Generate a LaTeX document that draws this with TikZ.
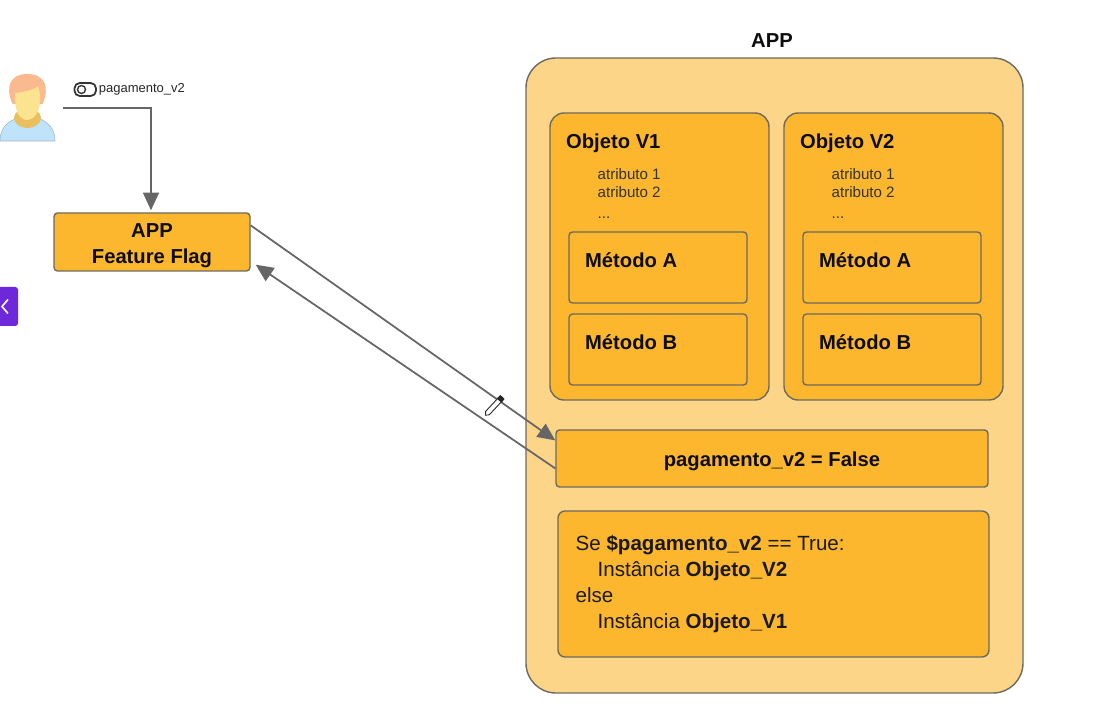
\documentclass[tikz,border=0pt]{standalone}
\usepackage{fontspec}
\setmainfont{Liberation Sans}
\usetikzlibrary{arrows.meta,positioning,calc}
\definecolor{appsand}{HTML}{FCD589}
\definecolor{appamber}{HTML}{FCB72F}
\definecolor{appline}{HTML}{6E6A5E}
\definecolor{arrowgray}{HTML}{666666}
\definecolor{tabpurple}{HTML}{6D28D9}
\definecolor{skinyellow}{HTML}{FCE38F}
\definecolor{hairpeach}{HTML}{FBB98F}
\definecolor{neckgold}{HTML}{E8C060}
\definecolor{shirtblue}{HTML}{BFE3FB}
\tikzset{
    ambox/.style={draw=appline, fill=appamber, line width=0.8pt, rounded corners=2pt},
    objbox/.style={ambox, rounded corners=8pt, minimum width=4.38cm, minimum height=5.74cm},
    metbox/.style={ambox, minimum width=3.56cm, minimum height=1.42cm},
    boldlabel/.style={font=\fontsize{11.5}{14}\selectfont\bfseries, text=black!95},
    attrlabel/.style={font=\fontsize{8.6}{10.2}\selectfont, text=black!80, align=left},
    flagarrow/.style={draw=arrowgray, line width=1pt, -{Triangle[length=10pt,width=9pt]}}
}
\begin{document}
\begin{tikzpicture}
    \useasboundingbox (0,0) rectangle (22.36,14.34);

    % person
    \fill[shirtblue, draw=shirtblue!70!black!80, line width=0.3pt] (0,11.52) .. controls (0,11.85) and (0.25,12.0) .. (0.55,12.0)
        .. controls (0.85,12.0) and (1.1,11.85) .. (1.1,11.52) -- cycle;
    \fill[neckgold] (0.55,11.98) ellipse (0.27cm and 0.2cm);
    \fill[hairpeach] (0.25,12.26) .. controls (0.1,12.6) and (0.2,12.86) .. (0.54,12.86)
        .. controls (0.9,12.86) and (1.0,12.6) .. (0.85,12.26) -- cycle;
    \fill[skinyellow] (0.54,11.94) .. controls (0.36,11.96) and (0.29,12.14) .. (0.3,12.48)
        .. controls (0.48,12.5) and (0.68,12.54) .. (0.76,12.62)
        .. controls (0.8,12.5) and (0.81,12.4) .. (0.8,12.3)
        .. controls (0.79,12.14) and (0.72,11.96) .. (0.54,11.94) -- cycle;
    \coordinate (usr) at (1.26,12.18);

    % flag name
    \draw[black!80, line width=1pt, rounded corners=3pt] (1.49,12.42) rectangle (1.92,12.68);
    \draw[black!80, line width=0.8pt] (1.63,12.55) circle (0.08cm);
    \node[anchor=west, inner sep=0pt, font=\fontsize{7.4}{9}\selectfont, text=black!85] (flagname) at (1.97,12.55) {pagamento\_v2};

    % feature flag box
    \node[ambox, minimum width=3.92cm, minimum height=1.16cm] (flag) at (3.04,9.50) {};
    \node[align=center, font=\fontsize{11.5}{14.6}\selectfont\bfseries, text=black!95, yshift=-0.08cm] (flagtxt) at (flag.center) {APP\\Feature Flag};

    % tab on the edge
    \fill[tabpurple, rounded corners=1.5pt] (-0.2,7.82) rectangle (0.36,8.6);
    \draw[white, line width=0.9pt] (0.16,8.35) -- (0.04,8.21) -- (0.16,8.07);

    % big app box
    \node[draw=appline, fill=appsand, line width=0.8pt, rounded corners=17pt, minimum width=9.94cm, minimum height=12.70cm] (app) at (15.49,6.83) {};
    \node[boldlabel] (apptitle) at (15.44,13.52) {APP};

    % objects
    \node[objbox] (objv1) at (13.19,9.21) {};
    \node[objbox] (objv2) at (17.87,9.21) {};
    \foreach \nm/\cx/\ttl in {v1/13.16/Objeto V1,v2/17.84/Objeto V2} {
        \node[boldlabel, anchor=west, inner sep=0pt] (ttl\nm) at ($(obj\nm.north west)+(0.33,-0.62)$) {\ttl};
        \node[attrlabel, anchor=north west, inner sep=0pt] (att\nm) at ($(obj\nm.north west)+(0.96,-1.12)$) {atributo 1\\atributo 2\\[2pt]...};
        \node[metbox] (meta\nm) at (\cx,8.99) {};
        \node[metbox] (metb\nm) at (\cx,7.35) {};
        \node[boldlabel, anchor=west, inner sep=0pt] (ltxa\nm) at ($(meta\nm.north west)+(0.33,-0.58)$) {Método A};
        \node[boldlabel, anchor=west, inner sep=0pt] (ltxb\nm) at ($(metb\nm.north west)+(0.33,-0.58)$) {Método B};
    }

    % flag value
    \node[ambox, minimum width=8.64cm, minimum height=1.14cm] (flagval) at (15.44,5.17) {};
    \node[boldlabel, yshift=-0.05cm] (flagvaltxt) at (flagval.center) {pagamento\_v2 = False};

    % switch code
    \node[ambox, rounded corners=4pt, minimum width=8.62cm, minimum height=2.92cm] (code) at (15.47,2.66) {};
    \node[anchor=north west, inner sep=0pt, align=left, font=\fontsize{11.7}{14.75}\selectfont, text=black!90] (codetxt) at ($(code.north west)+(0.36,-0.5)$)
        {Se \textbf{\$pagamento\_v2} == True:\\
         \hspace*{0.44cm}Instância \textbf{Objeto\_V2}\\
         else\\
         \hspace*{0.44cm}Instância \textbf{Objeto\_V1}};

    % connectors
    \draw[flagarrow] (usr) -| ($(flag.north)+(-0.02,0.04)$);
    \draw[flagarrow] ($(flag.north east)!0.22!(flag.south east)$) -- ($(flagval.north west)!0.19!(flagval.south west)$);
    \draw[flagarrow] ($(flagval.north west)!0.67!(flagval.south west)$) -- ($(flag.south east)+(0.1,0.14)$);

    % pencil cursor
    \begin{scope}[shift={(9.90,6.24)}, rotate=47]
        \draw[black!85, fill=white, line width=0.5pt] (-0.22,-0.05) -- (0.16,-0.05) -- (0.16,0.05) -- (-0.22,0.05) -- (-0.28,0) -- cycle;
        \fill[black!85] (0.12,-0.06) rectangle (0.22,0.06);
    \end{scope}
\end{tikzpicture}
\end{document}
